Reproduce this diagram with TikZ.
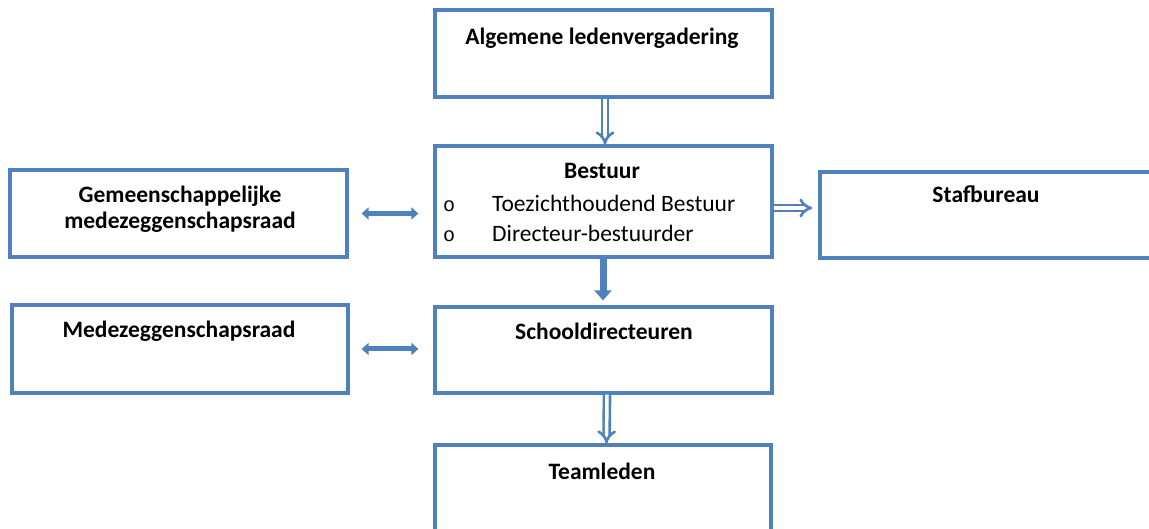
\documentclass[tikz,border=0pt]{standalone}
\usepackage{fontspec}
\setmainfont{Carlito}
\newfontfamily\bulletfont{Liberation Mono}
\usetikzlibrary{arrows.meta,calc}
\definecolor{boxblue}{RGB}{79,129,189}
\begin{document}
\begin{tikzpicture}[x=1pt,y=1pt,
  box/.style={draw=boxblue,line width=3.2pt,rectangle,inner sep=0pt},
  ttl/.style={anchor=base,inner sep=0pt,font=\fontsize{23.5}{28}\selectfont\bfseries},
  itm/.style={anchor=base west,inner sep=0pt,font=\fontsize{23.5}{28}\selectfont},
  bul/.style={anchor=base west,inner sep=0pt,font=\fontsize{20}{24}\selectfont\bulletfont},
  dblarrow/.style={draw=boxblue,line width=2.6pt,double=white,double distance=3.5pt,-{Implies}},
  solidarrow/.style={draw=boxblue,line width=7pt,-{Triangle[length=10pt,width=17pt]}},
  lrarrow/.style={draw=boxblue,line width=5pt,{Triangle[length=7pt,width=12pt]}-{Triangle[length=7pt,width=12pt]}}
]
\useasboundingbox (0,0) rectangle (1149,528);
\begin{scope}
\clip (0,0) rectangle (1149,528);
% boxes
\node[box,minimum width=337,minimum height=87] (alv) at (603.5,474.5) {};
\node[box,minimum width=337,minimum height=111] (bes) at (603.5,326.5) {};
\node[box,minimum width=337,minimum height=86] (sch) at (603.5,178) {};
\node[box,minimum width=336,minimum height=90] (team) at (603,38) {};
\node[box,minimum width=337,minimum height=87] (gmr) at (178.5,314.5) {};
\node[box,minimum width=336,minimum height=88] (mr) at (180,179) {};
\node[box,minimum width=336,minimum height=86] (staf) at (988,313) {};
\end{scope}
% texts
\node[ttl] (alvT) at (602,483) {Algemene ledenvergadering};
\node[ttl] (besT) at (602,349) {Bestuur};
\node[bul] (besB1) at (443,316) {o};
\node[itm] (besI1) at (492,316) {Toezichthoudend Bestuur};
\node[bul] (besB2) at (443,286) {o};
\node[itm] (besI2) at (492,286) {Directeur-bestuurder};
\node[ttl] (gmrT1) at (180,325) {Gemeenschappelijke};
\node[ttl] (gmrT2) at (180,299) {medezeggenschapsraad};
\node[ttl] (mrT) at (179,190) {Medezeggenschapsraad};
\node[ttl] (stafT) at (986,325) {Stafbureau};
\node[ttl] (schT) at (604,188) {Schooldirecteuren};
\node[ttl] (teamT) at (602,49) {Teamleden};
% connectors
\draw[dblarrow] ([xshift=1.5pt]alv.south) -- ([xshift=1.5pt]bes.north);
\draw[solidarrow,shorten >=5pt] ([xshift=-0.5pt]bes.south) -- ([xshift=-0.5pt]sch.north);
\draw[dblarrow] ([xshift=3.5pt]sch.south) -- ([xshift=3.5pt]team.north);
\draw[dblarrow,shorten >=6pt] ([yshift=-6.5pt]bes.east) -- ([yshift=-6.5pt]bes.east -| staf.west);
\draw[lrarrow,shorten <=13pt,shorten >=15pt] (gmr.east) -- (gmr.east -| bes.west);
\draw[lrarrow,shorten <=12pt,shorten >=15pt] (mr.east) -- (mr.east -| sch.west);
\end{tikzpicture}
\end{document}
